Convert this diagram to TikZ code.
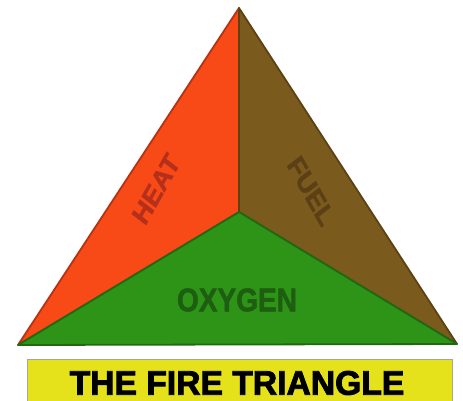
\documentclass[tikz,border=0pt]{standalone}
\usepackage{fontspec}
\setmainfont{Liberation Sans}
\newfontfamily\heavyfont[FakeBold=1.5]{Liberation Sans Bold}
\newfontfamily\blackfont[FakeBold=2.5]{Liberation Sans Bold}
\definecolor{heatfill}{HTML}{F84A17}
\definecolor{heatline}{HTML}{B83212}
\definecolor{heattext}{HTML}{B5301A}
\definecolor{fuelfill}{HTML}{7B5A1E}
\definecolor{fuelline}{HTML}{5C4212}
\definecolor{fueltext}{HTML}{5A4014}
\definecolor{oxyfill}{HTML}{2E9418}
\definecolor{oxyline}{HTML}{1F6A10}
\definecolor{oxytext}{HTML}{1D5E10}
\definecolor{titlefill}{HTML}{E5E21C}
\definecolor{titleline}{HTML}{A8A890}
\begin{document}
\begin{tikzpicture}[x=1pt,y=-1pt,
  face/.style={line width=1.8pt,line join=round},
  lbl/.style={font=\heavyfont\fontsize{#1}{#1}\selectfont,inner sep=0pt,xscale=0.85},
  lbl/.default=28]
\useasboundingbox (0,0) rectangle (463,401);
\coordinate (top) at (239,8);
\coordinate (left) at (18,345);
\coordinate (right) at (457,344);
\coordinate (mid) at (239,212);
\fill[white] (0,0) rectangle (463,401);
\draw[face,fill=heatfill,draw=heatline] (left) -- (top) -- (mid) -- cycle;
\draw[face,fill=fuelfill,draw=fuelline] (top) -- (right) -- (mid) -- cycle;
\draw[face,fill=oxyfill,draw=oxyline] (left) -- (mid) -- (right) -- cycle;
\node[lbl=29,text=heattext,rotate=56.6] (heat) at (156,189) {HEAT};
\node[lbl=29,text=fueltext,rotate=-56.6] (fuel) at (311,191) {FUEL};
\node[lbl=33,text=oxytext] (oxygen) at (237,300) {OXYGEN};
\draw[fill=titlefill,draw=titleline,line width=1pt] (27,359) rectangle (452,403);
\node[font=\blackfont\fontsize{34}{34}\selectfont,inner sep=0pt,xscale=0.99] (title) at (237,383) {THE FIRE TRIANGLE};
\end{tikzpicture}
\end{document}
